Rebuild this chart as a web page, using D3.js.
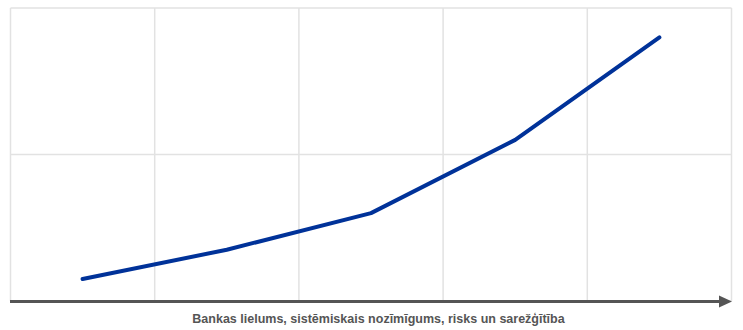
<!DOCTYPE html>
<html>
<head>
<meta charset="utf-8">
<script src="https://cdn.jsdelivr.net/npm/d3@7"></script>
<style>
html, body { margin: 0; padding: 0; background: #fff; }
svg { display: block; }
</style>
</head>
<body>
<svg id="chart" width="743" height="330"></svg>
<script>
const categories = ["1", "2", "3", "4", "5"];
const values = [0.15, 0.35, 0.6, 1.1, 1.8];
const yTicks = [0, 1, 2];
const xLabel = "Bankas lielums, sistēmiskais nozīmīgums, risks un sarežģītība";

(function () {
const svg = d3.select("#chart");
const mLeft = 10.5, mRight = 731.5, mTop = 8, mBottom = 301;

const x = d3.scaleBand().domain(categories).range([mLeft, mRight]).padding(0);
const y = d3.scaleLinear().domain([0, 2]).range([mBottom, mTop]);

const grid = svg.append("g").attr("stroke", "#e2e2e2").attr("stroke-width", 1.5).attr("fill", "none");
const edges = categories.map(c => x(c)).concat([x(categories[categories.length - 1]) + x.bandwidth()]);
grid.selectAll("line.v").data(edges).enter().append("line")
  .attr("x1", d => d).attr("x2", d => d).attr("y1", mTop).attr("y2", mBottom);
grid.selectAll("line.h").data(yTicks).enter().append("line")
  .attr("x1", mLeft).attr("x2", mRight).attr("y1", d => y(d)).attr("y2", d => y(d));

// x axis arrow
const ay = y(0) + 0.5;
svg.append("line")
  .attr("x1", mLeft - 0.5).attr("x2", 720).attr("y1", ay).attr("y2", ay)
  .attr("stroke", "#555").attr("stroke-width", 3);
svg.append("path")
  .attr("d", `M719,${ay - 6} L732,${ay} L719,${ay + 6} Z`)
  .attr("fill", "#555");

const line = d3.line()
  .x((d, i) => x(categories[i]) + x.bandwidth() / 2)
  .y(d => y(d));
svg.append("path")
  .datum(values)
  .attr("d", line)
  .attr("fill", "none")
  .attr("stroke", "#003299")
  .attr("stroke-width", 4)
  .attr("stroke-linecap", "round")
  .attr("stroke-linejoin", "round");

svg.append("text")
  .attr("x", 378.5)
  .attr("y", 323)
  .attr("text-anchor", "middle")
  .attr("font-family", "Arial, 'Liberation Sans', sans-serif")
  .attr("font-weight", "bold")
  .attr("font-size", "12.5px")
  .attr("fill", "#555")
  .text(xLabel);
})();
</script>
</body>
</html>
